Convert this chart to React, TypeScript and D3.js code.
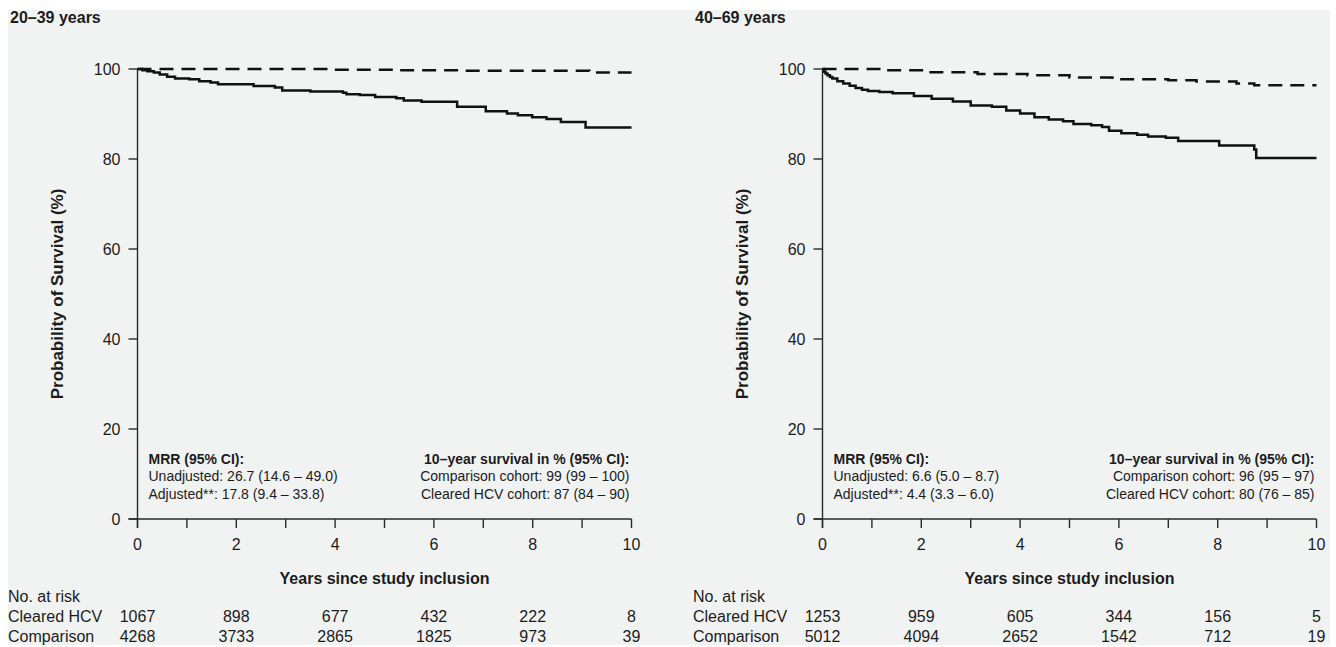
import React from 'react';
import * as d3 from 'd3';

const panelTitles = ['20–39 years', '40–69 years'];
const xTickValues = [0, 1, 2, 3, 4, 5, 6, 7, 8, 9, 10];
const xTickLabels = [0, 2, 4, 6, 8, 10];
const yTickValues = [0, 20, 40, 60, 80, 100];
const riskYears = [0, 2, 4, 6, 8, 10];
const riskRowLabels = ['Cleared HCV', 'Comparison'];
const yAxisTitle = 'Probability of Survival (%)';
const xAxisTitle = 'Years since study inclusion';
const riskTitle = 'No. at risk';

// 20–39 years
const hcvYoungTime = [0, 0.1, 0.2, 0.33, 0.45, 0.6, 0.76, 1.05, 1.25, 1.48, 1.63, 2.35, 2.78, 2.93, 3.5, 4.16, 4.23, 4.5, 4.81, 5.24, 5.39, 5.75, 6.47, 7.05, 7.48, 7.7, 7.99, 8.28, 8.57, 9.07, 10];
const hcvYoungSurv = [100, 99.7, 99.5, 99.2, 98.8, 98.3, 97.9, 97.7, 97.3, 97.0, 96.6, 96.2, 95.9, 95.2, 95.0, 94.7, 94.4, 94.2, 93.8, 93.5, 93.0, 92.7, 91.6, 90.6, 90.1, 89.7, 89.3, 88.9, 88.2, 87.0, 87.0];
const cmpYoungTime = [0, 3.87, 5.24, 6.5, 9.15, 10];
const cmpYoungSurv = [100, 99.85, 99.7, 99.6, 99.2, 99.2];

// 40–69 years
const hcvOldTime = [0, 0.03, 0.06, 0.1, 0.15, 0.2, 0.3, 0.42, 0.55, 0.67, 0.8, 0.92, 1.15, 1.42, 1.85, 2.21, 2.64, 3.0, 3.43, 3.72, 4.0, 4.29, 4.58, 4.87, 5.08, 5.44, 5.66, 5.8, 6.05, 6.37, 6.59, 6.95, 7.2, 8.03, 8.74, 8.78, 10];
const hcvOldSurv = [100, 99.4, 99.0, 98.6, 98.2, 97.9, 97.3, 96.8, 96.3, 95.8, 95.4, 95.1, 94.9, 94.6, 94.0, 93.4, 92.8, 91.9, 91.6, 90.8, 90.1, 89.3, 88.8, 88.4, 87.8, 87.5, 87.1, 86.3, 85.7, 85.4, 85.0, 84.7, 84.0, 83.0, 82.1, 80.2, 80.2];
const cmpOldTime = [0, 1.28, 2.14, 3.14, 4.15, 5.0, 5.87, 7.0, 7.57, 8.38, 8.74, 10];
const cmpOldSurv = [100, 99.7, 99.3, 98.9, 98.6, 98.1, 97.7, 97.5, 97.2, 96.8, 96.4, 96.4];

const riskHcvYoung = [1067, 898, 677, 432, 222, 8];
const riskCmpYoung = [4268, 3733, 2865, 1825, 973, 39];
const riskHcvOld = [1253, 959, 605, 344, 156, 5];
const riskCmpOld = [5012, 4094, 2652, 1542, 712, 19];

const mrrHeader = 'MRR (95% CI):';
const mrrYoung = ['Unadjusted: 26.7 (14.6 – 49.0)', 'Adjusted**: 17.8 (9.4 – 33.8)'];
const mrrOld = ['Unadjusted: 6.6 (5.0 – 8.7)', 'Adjusted**: 4.4 (3.3 – 6.0)'];
const survHeader = '10–year survival in % (95% CI):';
const survYoung = ['Comparison cohort: 99 (99 – 100)', 'Cleared HCV cohort: 87 (84 – 90)'];
const survOld = ['Comparison cohort: 96 (95 – 97)', 'Cleared HCV cohort: 80 (76 – 85)'];

const FONT = '"Liberation Sans", Arial, Helvetica, sans-serif';
const TEXT = '#1c1c1c';

type PanelProps = {
  off: number;
  title: string;
  hcvT: number[]; hcvS: number[];
  cmpT: number[]; cmpS: number[];
  riskH: number[]; riskC: number[];
  mrr: string[]; surv: string[];
};

function Panel(p: PanelProps) {
  const x = d3.scaleLinear().domain([0, 10]).range([137.5 + p.off, 631.5 + p.off]);
  const y = d3.scaleLinear().domain([0, 100]).range([519, 69]);
  const line = d3.line<[number, number]>().x(d => x(d[0])).y(d => y(d[1])).curve(d3.curveStepAfter);
  const hcv = line(p.hcvT.map((t, i) => [t, p.hcvS[i]] as [number, number])) || '';
  const cmp = line(p.cmpT.map((t, i) => [t, p.cmpS[i]] as [number, number])) || '';
  const x0 = x(0), x1 = x(10), y0 = y(0), y1 = y(100);
  const rows = [p.riskH, p.riskC];
  return (
    <g fontFamily={FONT} fill={TEXT}>
      <text x={p.off + 10} y={23} fontSize={16} fontWeight="bold">{p.title}</text>
      <line x1={x0} x2={x0} y1={y1} y2={y0 + 9} stroke="#2a2a2a" strokeWidth={1.4} />
      <line x1={x0 - 9} x2={x1} y1={y0} y2={y0} stroke="#2a2a2a" strokeWidth={1.4} />
      {yTickValues.map(v => (
        <g key={'y' + v}>
          <line x1={x0 - 9} x2={x0} y1={y(v)} y2={y(v)} stroke="#2a2a2a" strokeWidth={1.4} />
          <text x={x0 - 17} y={y(v)} dy="0.36em" textAnchor="end" fontSize={16}>{v}</text>
        </g>
      ))}
      {xTickValues.map(v => (
        <line key={'xt' + v} x1={x(v)} x2={x(v)} y1={y0} y2={y0 + 9} stroke="#2a2a2a" strokeWidth={1.4} />
      ))}
      {xTickLabels.map(v => (
        <text key={'xl' + v} x={x(v)} y={549.5} textAnchor="middle" fontSize={16}>{v}</text>
      ))}
      <text transform={`translate(${p.off + 57},294) rotate(-90)`} textAnchor="middle" dy="0.36em" fontSize={17} fontWeight="bold">{yAxisTitle}</text>
      <text x={(x0 + x1) / 2} y={584} textAnchor="middle" fontSize={16} fontWeight="bold">{xAxisTitle}</text>
      <path d={cmp} fill="none" stroke="#111" strokeWidth={2.5} strokeDasharray="14 8" />
      <path d={hcv} fill="none" stroke="#111" strokeWidth={2.5} />
      <text x={x0 + 11} y={464} fontSize={14} fontWeight="bold">{mrrHeader}</text>
      {p.mrr.map((s, i) => (
        <text key={'m' + i} x={x0 + 11} y={481 + i * 17.5} fontSize={14}>{s}</text>
      ))}
      <text x={x1 - 2} y={464} fontSize={14} fontWeight="bold" textAnchor="end">{survHeader}</text>
      {p.surv.map((s, i) => (
        <text key={'s' + i} x={x1 - 2} y={481 + i * 17.5} fontSize={14} textAnchor="end">{s}</text>
      ))}
      <text x={p.off + 8} y={602} fontSize={16}>{riskTitle}</text>
      {riskRowLabels.map((lab, r) => (
        <g key={'r' + r}>
          <text x={p.off + 8} y={622 + r * 20} fontSize={16}>{lab}</text>
          {rows[r].map((n, i) => (
            <text key={'n' + i} x={x(riskYears[i])} y={622 + r * 20} textAnchor="middle" fontSize={16}>{n}</text>
          ))}
        </g>
      ))}
    </g>
  );
}

export default function App() {
  return (
    <svg width={1336} height={647} style={{ position: 'absolute', left: 0, top: 0, background: '#fff' }}>
      <rect x={8} y={10} width={1322} height={635} fill="#f1f3f3" />
      <Panel off={0} title={panelTitles[0]} hcvT={hcvYoungTime} hcvS={hcvYoungSurv} cmpT={cmpYoungTime} cmpS={cmpYoungSurv}
        riskH={riskHcvYoung} riskC={riskCmpYoung} mrr={mrrYoung} surv={survYoung} />
      <Panel off={685} title={panelTitles[1]} hcvT={hcvOldTime} hcvS={hcvOldSurv} cmpT={cmpOldTime} cmpS={cmpOldSurv}
        riskH={riskHcvOld} riskC={riskCmpOld} mrr={mrrOld} surv={survOld} />
    </svg>
  );
}
